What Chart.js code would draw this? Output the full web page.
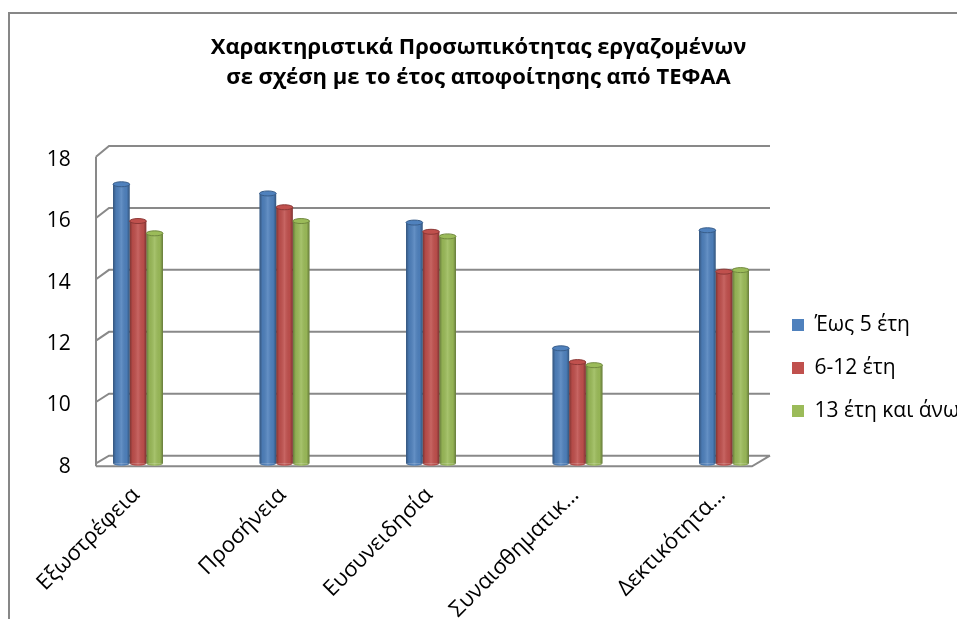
<!DOCTYPE html>
<html>
<head>
<meta charset="utf-8">
<script src="https://cdn.jsdelivr.net/npm/chart.js@4/dist/chart.umd.min.js"></script>
<style>
html,body{margin:0;padding:0;background:#fff;overflow:hidden;}
#wrap{position:absolute;left:0;top:0;width:957px;height:619px;}
</style>
</head>
<body>
<div id="wrap"><canvas id="c" width="957" height="619"></canvas></div>
<script>
// ---- data ----
const titleLines = ['Χαρακτηριστικά Προσωπικότητας εργαζομένων', 'σε σχέση με το έτος αποφοίτησης από ΤΕΦΑΑ'];
const categories = ['Εξωστρέφεια', 'Προσήνεια', 'Ευσυνειδησία', 'Συναισθηματικ...', 'Δεκτικότητα...'];
const seriesNames = ['Έως 5 έτη', '6-12 έτη', '13 έτη και άνω'];
const upTo5Years = [17.1, 16.8, 15.85, 11.75, 15.6];
const from6to12Years = [15.9, 16.35, 15.55, 11.3, 14.25];
const over13Years = [15.5, 15.9, 15.4, 11.2, 14.3];
const yTicks = [8, 10, 12, 14, 16, 18];

// ---- styles ----
const fills = ['#4F81BD', '#C0504D', '#9BBB59'];
const edges = ['#385D8A', '#8C3836', '#71893F'];
const FONT = "'Open Sans', 'Noto Sans', sans-serif";
Chart.defaults.font.family = FONT;
Chart.defaults.color = '#000';

const frame = {
  id: 'frame',
  beforeDraw(chart) {
    const ctx = chart.ctx;
    ctx.save();
    ctx.fillStyle = '#fff';
    ctx.fillRect(0, 0, chart.width, chart.height);
    ctx.strokeStyle = '#878787';
    ctx.lineWidth = 2;
    ctx.strokeRect(9, 13, chart.width + 50, chart.height + 50);
    ctx.restore();
  }
};

const walls = {
  id: 'walls',
  beforeDatasetsDraw(chart) {
    const ctx = chart.ctx, y = chart.scales.y;
    const frontX = 96, backX = 109, rightX = 770, floorRight = 752;
    const back = p => 1.0101 * p - 12.28;
    const top = y.getPixelForValue(y.max), bot = y.getPixelForValue(y.min);
    ctx.save();
    ctx.strokeStyle = '#898989';
    ctx.lineWidth = 2;
    ctx.beginPath();
    ctx.moveTo(frontX, top);
    ctx.lineTo(frontX, bot + 3);
    y.ticks.forEach(t => {
      const p = y.getPixelForValue(t.value);
      const b = back(p);
      ctx.moveTo(frontX, p);
      ctx.lineTo(backX, b);
      ctx.lineTo(rightX, b);
    });
    ctx.moveTo(frontX, bot + 3);
    ctx.lineTo(floorRight, bot + 3);
    ctx.lineTo(rightX, back(bot));
    ctx.stroke();
    ctx.restore();
  }
};

const cylinders = {
  id: 'cylinders',
  afterDatasetsDraw(chart) {
    const ctx = chart.ctx;
    const bottom = chart.chartArea.bottom;
    chart.data.datasets.forEach((ds, di) => {
      const meta = chart.getDatasetMeta(di);
      meta.data.forEach(bar => {
        const {x, y, width} = bar.getProps(['x', 'y', 'width'], true);
        const base = Math.min(bar.base, bottom);
        const l = x - width / 2;
        const g = ctx.createLinearGradient(l, 0, l + width, 0);
        g.addColorStop(0, 'rgba(0,0,0,0.35)');
        g.addColorStop(0.18, 'rgba(0,0,0,0.06)');
        g.addColorStop(0.5, 'rgba(255,255,255,0.12)');
        g.addColorStop(0.82, 'rgba(0,0,0,0.04)');
        g.addColorStop(1, 'rgba(0,0,0,0.35)');
        ctx.save();
        // bottom cap
        ctx.beginPath();
        ctx.ellipse(x, base, width / 2, 2.5, 0, 0, Math.PI);
        ctx.fillStyle = fills[di];
        ctx.fill();
        ctx.fillStyle = g;
        ctx.fill();
        ctx.fillRect(l, y, width, base - y);
        // top cap
        ctx.beginPath();
        ctx.ellipse(x, y, width / 2, 2.5, 0, 0, Math.PI * 2);
        ctx.fillStyle = fills[di];
        ctx.fill();
        ctx.lineWidth = 1;
        ctx.strokeStyle = edges[di];
        ctx.stroke();
        ctx.restore();
      });
    });
  }
};

const legendPlace = {
  id: 'legendPlace',
  afterLayout(chart) {
    const lg = chart.legend;
    const h = lg.height;
    lg.left = 770; lg.right = chart.width + 100;
    lg.top = 292.5; lg.bottom = 292.5 + h;
  }
};

const values = [upTo5Years, from6to12Years, over13Years];

new Chart(document.getElementById('c'), {
  type: 'bar',
  data: {
    labels: categories,
    datasets: seriesNames.map((name, i) => ({
      label: name,
      data: values[i],
      backgroundColor: fills[i],
      borderWidth: 0,
      categoryPercentage: 0.341,
      barPercentage: 1.0
    }))
  },
  options: {
    responsive: false,
    animation: false,
    devicePixelRatio: 1,
    layout: {padding: 0},
    plugins: {
      title: {
        display: true,
        text: titleLines,
        color: '#000',
        font: {size: 22, weight: 'bold', lineHeight: 1.365, family: FONT},
        padding: {top: 33, bottom: 63.6}
      },
      legend: {
        display: true,
        position: 'right',
        align: 'start',
        maxWidth: 159.75,
        labels: {
          boxWidth: 12,
          boxHeight: 12,
          padding: 22,
          color: '#000',
          font: {size: 21, family: FONT}
        }
      },
      tooltip: {enabled: false}
    },
    scales: {
      x: {
        grid: {display: false, drawTicks: false},
        border: {display: false},
        ticks: {
          autoSkip: false,
          minRotation: 45,
          maxRotation: 45,
          padding: 19,
          labelOffset: -2,
          color: '#000',
          font: {size: 22, family: FONT}
        },
        afterFit(s) { s.height = 155.7; }
      },
      y: {
        min: 8,
        max: 18,
        grid: {display: false, drawTicks: false},
        border: {display: false},
        afterBuildTicks(s) { s.ticks = yTicks.map(v => ({value: v})); },
        ticks: {
          mirror: true,
          crossAlign: 'far',
          padding: -18,
          labelOffset: 3.5,
          color: '#000',
          font: {size: 21, family: FONT}
        },
        afterFit(s) { s.width = 64.75; }
      }
    }
  },
  plugins: [frame, walls, cylinders, legendPlace]
});
</script>
</body>
</html>
